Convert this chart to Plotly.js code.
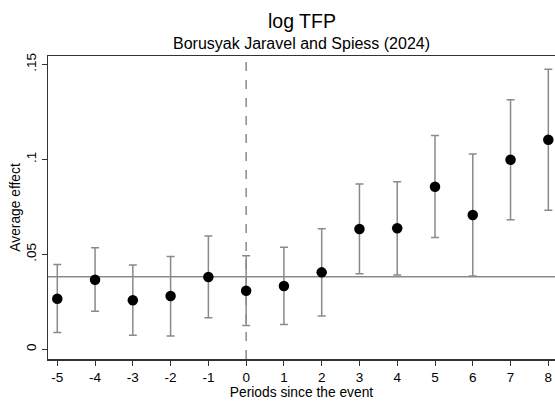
<!DOCTYPE html>
<html>
<head>
<meta charset="utf-8">
<script src="https://cdn.plot.ly/plotly-3.0.1.min.js"></script>
<style>html,body{margin:0;padding:0;background:#fff;}#chart{width:555px;height:401px;}</style>
</head>
<body>
<div id="chart"></div>
<script>
const periods = [-5, -4, -3, -2, -1, 0, 1, 2, 3, 4, 5, 6, 7, 8];
const effects = [0.0266, 0.0366, 0.0258, 0.0281, 0.0381, 0.0308, 0.0333, 0.0405, 0.0633, 0.0637, 0.0856, 0.0707, 0.0998, 0.1103];
const ciUpper = [0.0447, 0.0535, 0.0444, 0.0489, 0.0596, 0.0493, 0.0537, 0.0635, 0.0870, 0.0882, 0.1126, 0.1028, 0.1314, 0.1474];
const ciLower = [0.0089, 0.0200, 0.0074, 0.0070, 0.0166, 0.0126, 0.0130, 0.0175, 0.0398, 0.0391, 0.0589, 0.0386, 0.0682, 0.0732];
const referenceLevel = 0.0382;
const eventPeriod = 0;
const yTickVals = [0, 0.05, 0.1, 0.15];
const yTickText = ['0', '.05', '.1', '.15'];

const errPlus = ciUpper.map((u, i) => u - effects[i]);
const errMinus = effects.map((e, i) => e - ciLower[i]);

const font = 'Liberation Sans, Arial, sans-serif';

const trace = {
  x: periods,
  y: effects,
  type: 'scatter',
  mode: 'markers',
  marker: {color: '#000000', size: 10.5},
  error_y: {
    type: 'data', symmetric: false,
    array: errPlus, arrayminus: errMinus,
    color: '#8a8a8a', thickness: 1.5, width: 4
  },
  hoverinfo: 'skip'
};

const layout = {
  width: 555, height: 401,
  margin: {l: 48, r: 0, t: 56, b: 42},
  paper_bgcolor: '#ffffff', plot_bgcolor: '#ffffff',
  showlegend: false,
  font: {family: font, size: 13, color: '#000'},
  xaxis: {
    range: [-5.246, 8.177],
    tickvals: periods,
    ticktext: periods.map(String),
    ticks: 'outside', ticklen: 5, tickcolor: '#333', tickwidth: 1,
    showgrid: false, zeroline: false,
    showline: true, linecolor: '#333', linewidth: 1.5, mirror: true,
    tickfont: {family: font, size: 13.5, color: '#000'},
    title: {text: 'Periods since the event', font: {family: font, size: 13.8, color: '#000'}, standoff: 2}
  },
  yaxis: {
    range: [-0.0051, 0.1544],
    tickvals: yTickVals,
    ticktext: yTickText,
    tickangle: -90,
    ticks: 'outside', ticklen: 5, tickcolor: '#333', tickwidth: 1,
    showgrid: false, zeroline: false,
    showline: true, linecolor: '#333', linewidth: 1.5, mirror: false,
    tickfont: {family: font, size: 13.5, color: '#000'},
    title: {text: 'Average effect', font: {family: font, size: 13.8, color: '#000'}, standoff: 0}
  },
  shapes: [
    {type: 'line', xref: 'paper', yref: 'y', x0: 0, x1: 1, y0: referenceLevel, y1: referenceLevel,
     line: {color: '#8a8a8a', width: 1.5}, layer: 'below'},
    {type: 'line', xref: 'x', yref: 'paper', x0: eventPeriod, x1: eventPeriod, y0: 0, y1: 1,
     line: {color: '#8a8a8a', width: 1.5, dash: 'dash'}, layer: 'below'}
  ],
  annotations: [
    {text: 'log TFP', xref: 'paper', yref: 'paper', x: 0.5, y: 1, yshift: 35, xanchor: 'center', yanchor: 'middle',
     showarrow: false, font: {family: font, size: 19.5, color: '#000'}},
    {text: 'Borusyak Jaravel and Spiess (2024)', xref: 'paper', yref: 'paper', x: 0.5, y: 1, yshift: 13, xanchor: 'center', yanchor: 'middle',
     showarrow: false, font: {family: font, size: 16, color: '#000'}}
  ]
};

Plotly.newPlot('chart', [trace], layout, {displayModeBar: false, staticPlot: true});
</script>
</body>
</html>
